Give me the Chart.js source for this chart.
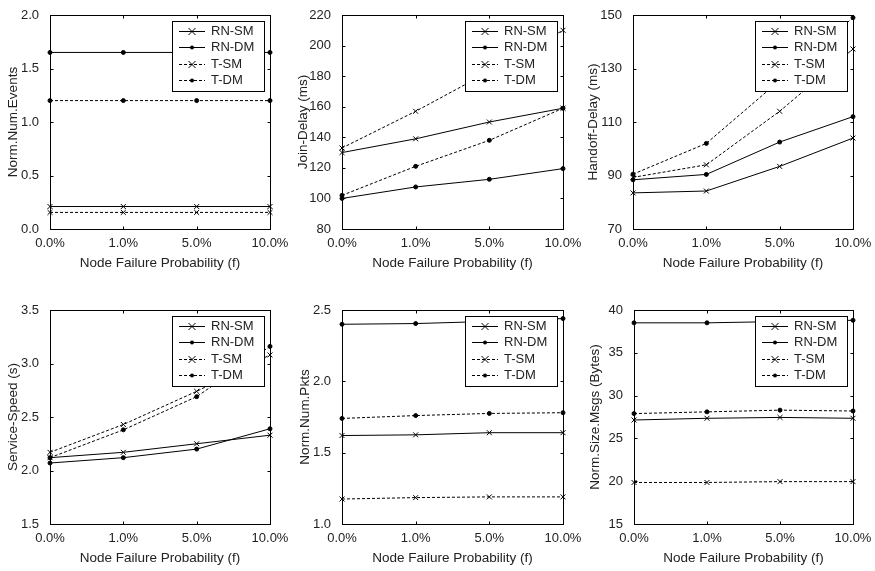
<!DOCTYPE html>
<html>
<head>
<meta charset="utf-8">
<script src="https://cdn.jsdelivr.net/npm/chart.js@4.4.1/dist/chart.umd.min.js"></script>
<style>
  html, body { margin: 0; padding: 0; background: #fff; }
  body { width: 875px; height: 571px; position: relative; overflow: hidden; }
  canvas { position: absolute; }
</style>
</head>
<body>
<canvas id="c1"></canvas>
<canvas id="c2"></canvas>
<canvas id="c3"></canvas>
<canvas id="c4"></canvas>
<canvas id="c5"></canvas>
<canvas id="c6"></canvas>
<script>
// ---- data ----
const categories = ['0.0%', '1.0%', '5.0%', '10.0%'];
const seriesNames = ['RN-SM', 'RN-DM', 'T-SM', 'T-DM'];
const xTitle = 'Node Failure Probability (f)';

const eventsRNSM = [0.21, 0.21, 0.21, 0.21];
const eventsRNDM = [1.65, 1.65, 1.65, 1.65];
const eventsTSM  = [0.155, 0.155, 0.155, 0.155];
const eventsTDM  = [1.2, 1.2, 1.2, 1.2];

const joinRNSM = [130, 139, 150, 159];
const joinRNDM = [100, 107.5, 112.5, 119.5];
const joinTSM  = [133, 157, 183, 210];
const joinTDM  = [102, 121, 138, 159];

const handoffRNSM = [83.5, 84.2, 93.4, 104];
const handoffRNDM = [88.4, 90.4, 102.5, 112];
const handoffTSM  = [89.3, 94, 114, 137.3];
const handoffTDM  = [90.5, 102, 125.5, 149];

const speedRNSM = [2.12, 2.17, 2.25, 2.33];
const speedRNDM = [2.07, 2.12, 2.2, 2.39];
const speedTSM  = [2.17, 2.43, 2.74, 3.08];
const speedTDM  = [2.12, 2.38, 2.69, 3.16];

const pktsRNSM = [1.62, 1.625, 1.64, 1.64];
const pktsRNDM = [2.40, 2.405, 2.42, 2.44];
const pktsTSM  = [1.175, 1.185, 1.19, 1.19];
const pktsTDM  = [1.74, 1.76, 1.775, 1.78];

const sizeRNSM = [27.15, 27.35, 27.45, 27.35];
const sizeRNDM = [38.5, 38.5, 38.65, 38.8];
const sizeTSM  = [19.85, 19.85, 19.95, 19.95];
const sizeTDM  = [27.9, 28.1, 28.3, 28.2];

const yTitles = ['Norm.Num.Events', 'Join-Delay (ms)', 'Handoff-Delay (ms)',
                 'Service-Speed (s)', 'Norm.Num.Pkts', 'Norm.Size.Msgs (Bytes)'];
const yMin  = [0, 80, 70, 1.5, 1.0, 15];
const yMax  = [2, 220, 150, 3.5, 2.5, 40];
const yStep = [0.5, 20, 20, 0.5, 0.5, 5];
const yDecimals = [1, 0, 0, 1, 1, 0];

// ---- styling ----
const FONT = '"Liberation Sans", Arial, Helvetica, sans-serif';
const TEXT = '#222';
Chart.defaults.font.family = FONT;
Chart.defaults.color = TEXT;

function drawMarker(ctx, style, x, y, r) {
  ctx.save();
  ctx.setLineDash([]);
  ctx.strokeStyle = '#000';
  ctx.fillStyle = '#000';
  ctx.lineWidth = 1;
  if (style === 'circle') {
    ctx.beginPath(); ctx.arc(x, y, r, 0, Math.PI * 2); ctx.fill();
  } else {
    ctx.beginPath();
    ctx.moveTo(x - r, y - r); ctx.lineTo(x + r, y + r);
    ctx.moveTo(x - r, y + r); ctx.lineTo(x + r, y - r);
    ctx.stroke();
  }
  ctx.restore();
}

const framePlugin = {
  id: 'matlabFrame',
  afterDatasetsDraw(chart) {
    const { ctx, chartArea: a, scales } = chart;
    ctx.save();
    ctx.strokeStyle = '#000';
    ctx.lineWidth = 1;
    ctx.setLineDash([]);
    const L = Math.round(a.left) + 0.5, R = Math.round(a.right) + 0.5;
    const T = Math.round(a.top) + 0.5, B = Math.round(a.bottom) + 0.5;
    ctx.strokeRect(L, T, R - L, B - T);
    const tl = 3;
    ctx.beginPath();
    const xs = scales.x;
    xs.ticks.forEach((t, i) => {
      const px = Math.round(xs.getPixelForTick(i)) + 0.5;
      ctx.moveTo(px, B); ctx.lineTo(px, B - tl);
      ctx.moveTo(px, T); ctx.lineTo(px, T + tl);
    });
    const ys = scales.y;
    ys.ticks.forEach((t, i) => {
      const py = Math.round(ys.getPixelForTick(i)) + 0.5;
      ctx.moveTo(L, py); ctx.lineTo(L + tl, py);
      ctx.moveTo(R, py); ctx.lineTo(R - tl, py);
    });
    ctx.stroke();

    // legend box (inside plot, upper right)
    const w = 92, h = 70;
    const x0 = Math.round(a.right - 6 - w), y0 = Math.round(a.top + 6);
    ctx.fillStyle = '#fff';
    ctx.fillRect(x0, y0, w, h);
    ctx.strokeRect(x0 + 0.5, y0 + 0.5, w, h);
    ctx.font = '13px ' + FONT;
    ctx.textBaseline = 'middle';
    ctx.textAlign = 'left';
    chart.data.datasets.forEach((ds, i) => {
      const y = Math.round(y0 + 10 + i * 16.4) + 0.5;
      ctx.strokeStyle = '#000';
      ctx.setLineDash(ds.borderDash || []);
      ctx.beginPath(); ctx.moveTo(x0 + 7, y); ctx.lineTo(x0 + 33, y); ctx.stroke();
      ctx.setLineDash([]);
      drawMarker(ctx, ds.pointStyle, x0 + 20, y, ds.pointRadius);
      ctx.fillStyle = TEXT;
      ctx.fillText(ds.label, x0 + 39, y);
    });
    ctx.restore();
  }
};

function makeChart(id, idx, series, layout) {
  const cv = document.getElementById(id);
  const width = layout.yW + layout.areaW + layout.padR;
  const height = layout.padT + 214 + 45;
  cv.width = width; cv.height = height;
  cv.style.left = layout.left + 'px';
  cv.style.top = layout.top + 'px';
  cv.style.width = width + 'px';
  cv.style.height = height + 'px';
  const styles = [
    { dash: [], ps: 'crossRot', r: 3.5 },
    { dash: [], ps: 'circle', r: 2 },
    { dash: [3, 2], ps: 'crossRot', r: 3.5 },
    { dash: [3, 2], ps: 'circle', r: 2 }
  ];
  const datasets = series.map((vals, i) => ({
    label: seriesNames[i],
    data: vals,
    borderColor: '#000',
    backgroundColor: '#000',
    borderWidth: 1,
    borderDash: styles[i].dash,
    pointStyle: styles[i].ps,
    pointRadius: styles[i].r,
    pointBorderWidth: 1,
    pointBorderColor: '#000',
    pointBackgroundColor: '#000',
    tension: 0,
    fill: false,
    clip: false
  }));
  return new Chart(cv, {
    type: 'line',
    data: { labels: categories, datasets },
    plugins: [framePlugin],
    options: {
      responsive: false,
      animation: false,
      devicePixelRatio: 1,
      layout: { padding: { left: 0, top: layout.padT, right: layout.padR, bottom: 0 } },
      plugins: { legend: { display: false }, tooltip: { enabled: false } },
      elements: { point: { hoverRadius: 0 } },
      scales: {
        x: {
          type: 'category',
          offset: false,
          grid: { display: false },
          border: { display: false },
          ticks: { font: { size: 13 }, color: TEXT, padding: -1, maxRotation: 0, autoSkip: false },
          title: { display: true, text: xTitle, font: { size: 13.5 }, color: TEXT, padding: { top: 0, bottom: 3 } },
          afterFit: s => { s.height = 45; }
        },
        y: {
          min: yMin[idx], max: yMax[idx],
          grid: { display: false },
          border: { display: false },
          ticks: {
            stepSize: yStep[idx], font: { size: 13 }, color: TEXT, padding: 3,
            callback: v => Number(v).toFixed(yDecimals[idx])
          },
          title: { display: true, text: yTitles[idx], font: { size: 13.5 }, color: TEXT, padding: { top: layout.tPad, bottom: 0 } },
          afterFit: s => { s.width = layout.yW; }
        }
      }
    }
  });
}

makeChart('c1', 0, [eventsRNSM, eventsRNDM, eventsTSM, eventsTDM],
  { left: 0, top: 0, yW: 50, areaW: 220, padR: 25, padT: 15, tPad: 5 });
makeChart('c2', 1, [joinRNSM, joinRNDM, joinTSM, joinTDM],
  { left: 290, top: 0, yW: 52, areaW: 221, padR: 25, padT: 15, tPad: 5 });
makeChart('c3', 2, [handoffRNSM, handoffRNDM, handoffTSM, handoffTDM],
  { left: 580, top: 0, yW: 53, areaW: 220, padR: 22, padT: 15, tPad: 5 });
makeChart('c4', 3, [speedRNSM, speedRNDM, speedTSM, speedTDM],
  { left: 0, top: 285, yW: 50, areaW: 220, padR: 25, padT: 25, tPad: 5 });
makeChart('c5', 4, [pktsRNSM, pktsRNDM, pktsTSM, pktsTDM],
  { left: 290, top: 285, yW: 52, areaW: 221, padR: 25, padT: 25, tPad: 7 });
makeChart('c6', 5, [sizeRNSM, sizeRNDM, sizeTSM, sizeTDM],
  { left: 580, top: 285, yW: 54, areaW: 219, padR: 22, padT: 25, tPad: 7 });
</script>
</body>
</html>
